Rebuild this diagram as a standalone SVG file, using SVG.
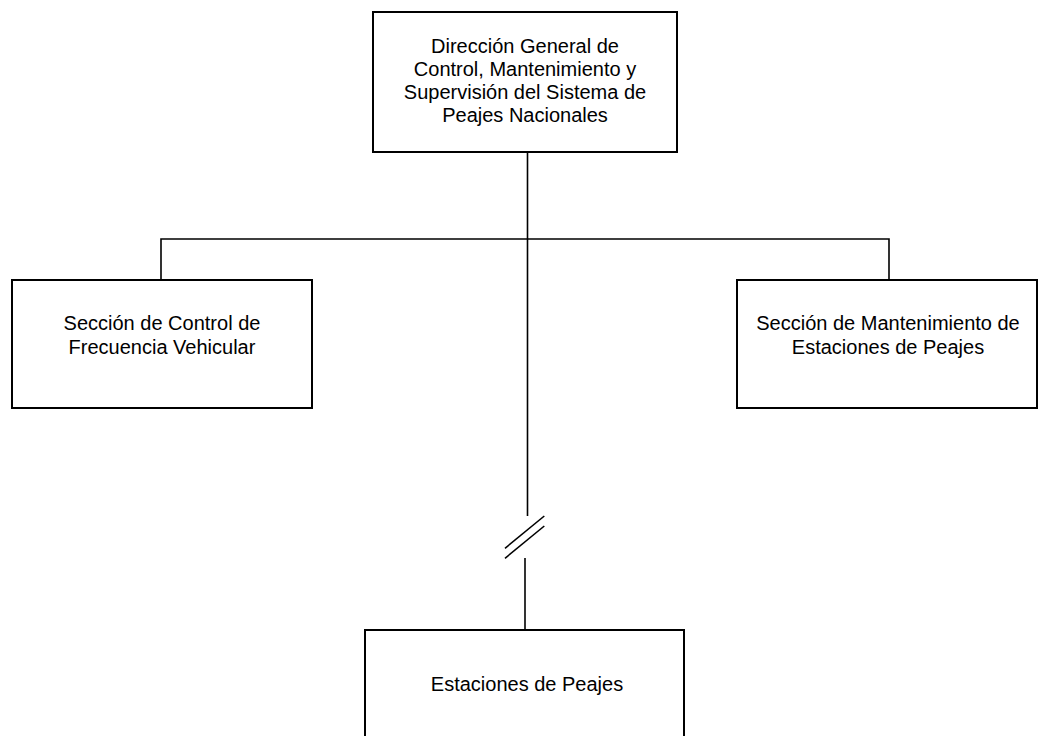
<svg xmlns="http://www.w3.org/2000/svg" width="1039" height="736" viewBox="0 0 1039 736">
<style>
.box{fill:#fff;stroke:#000;stroke-width:2}
.ln{fill:none;stroke:#000;stroke-width:1.6}
.t{font-family:"Liberation Sans",Arial,sans-serif;font-size:20px;fill:#000;text-anchor:middle}
</style>
<rect width="1039" height="736" fill="#fff"/>
<g id="connectors">
<line class="ln" x1="527.5" y1="152" x2="527.5" y2="516"/>
<polyline class="ln" points="161,280 161,239 889,239 889,280"/>
<line class="ln" x1="505" y1="548.3" x2="544.3" y2="516"/>
<line class="ln" x1="505" y1="558.3" x2="544.3" y2="526"/>
<line class="ln" x1="525" y1="558" x2="525" y2="630"/>
</g>
<g id="n-direccion">
<rect class="box" x="373" y="12" width="304" height="140"/>
<text class="t" x="525" y="53">Dirección General de</text>
<text class="t" x="525" y="76">Control, Mantenimiento y</text>
<text class="t" x="525" y="99">Supervisión del Sistema de</text>
<text class="t" x="525" y="122">Peajes Nacionales</text>
</g>
<g id="n-frecuencia">
<rect class="box" x="12" y="280" width="300" height="128"/>
<text class="t" x="162" y="330">Sección de Control de</text>
<text class="t" x="162" y="354">Frecuencia Vehicular</text>
</g>
<g id="n-mantenimiento">
<rect class="box" x="737" y="280" width="300" height="128"/>
<text class="t" x="888" y="330">Sección de Mantenimiento de</text>
<text class="t" x="888" y="354">Estaciones de Peajes</text>
</g>
<g id="n-estaciones">
<rect class="box" x="365" y="630" width="319" height="120"/>
<text class="t" x="527" y="691">Estaciones de Peajes</text>
</g>
</svg>
